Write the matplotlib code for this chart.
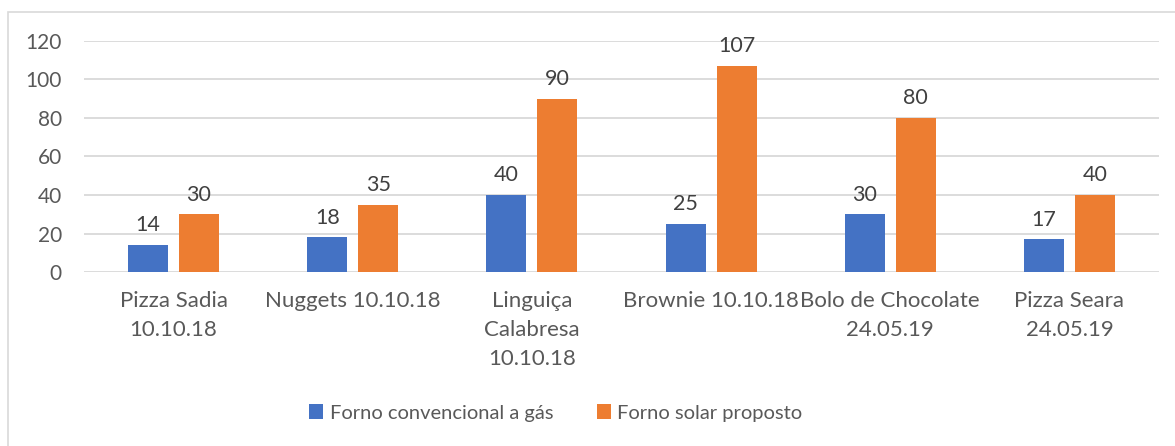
import matplotlib.pyplot as plt
import numpy as np
from matplotlib.patches import Rectangle

plt.rcParams["font.family"] = ["Lato", "DejaVu Sans"]

categories = [
    "Pizza Sadia\n10.10.18",
    "Nuggets 10.10.18",
    "Linguiça\nCalabresa\n10.10.18",
    "Brownie 10.10.18",
    "Bolo de Chocolate\n24.05.19",
    "Pizza Seara\n24.05.19",
]
gas_values = [14, 18, 40, 25, 30, 17]
solar_values = [30, 35, 90, 107, 80, 40]
series_names = ["Forno convencional a gás", "Forno solar proposto"]
y_ticks = [0, 20, 40, 60, 80, 100, 120]

BLUE = "#4472C4"
ORANGE = "#ED7D31"
TEXT = "#595959"
LABEL = "#404040"
GRID = "#D9D9D9"

fig = plt.figure(figsize=(11.75, 4.46), dpi=100)
W, H = 1175, 446

# chart frame
fig.patches.append(Rectangle((8 / W, -0.01), 1.1, 1 - 12 / H + 0.01,
                             transform=fig.transFigure, fill=False,
                             edgecolor=GRID, linewidth=1.2))

ax = fig.add_axes([84 / W, 1 - 272 / H, (1159 - 84) / W, (272 - 41) / H])
x = np.arange(len(categories))
width = 0.223
offset = 0.142
b1 = ax.bar(x - offset, gas_values, width, color=BLUE, label=series_names[0], zorder=3)
b2 = ax.bar(x + offset, solar_values, width, color=ORANGE, label=series_names[1], zorder=3)

for bars in (b1, b2):
    for rect in bars:
        v = rect.get_height()
        ax.annotate(f"{v:g}", (rect.get_x() + rect.get_width() / 2, v),
                    xytext=(0, 7), textcoords="offset points",
                    ha="center", va="bottom", fontsize=15.5, color=LABEL)

ax.set_xlim(-0.5, len(categories) - 0.5)
ax.set_ylim(0, 120)
ax.set_yticks(y_ticks)
ax.set_xticks(x)
ax.set_xticklabels(categories, linespacing=1.55)
ax.tick_params(axis="y", length=0, pad=16, labelsize=15, labelcolor=TEXT)
ax.tick_params(axis="x", length=0, pad=14, labelsize=16, labelcolor=TEXT)
for lbl in ax.get_yticklabels():
    lbl.set_horizontalalignment("right")
ax.yaxis.grid(True, color=GRID, linewidth=1.3, zorder=0)
for s in ax.spines.values():
    s.set_visible(False)

fig.legend(handles=[b1, b2], labels=series_names, loc="center",
           bbox_to_anchor=(556 / W, 1 - 413 / H), ncol=2, frameon=False,
           fontsize=14.5, labelcolor=TEXT, handlelength=0.7, handleheight=0.7,
           handletextpad=0.3, columnspacing=2.2)

fig.savefig("out.png", dpi=100)
